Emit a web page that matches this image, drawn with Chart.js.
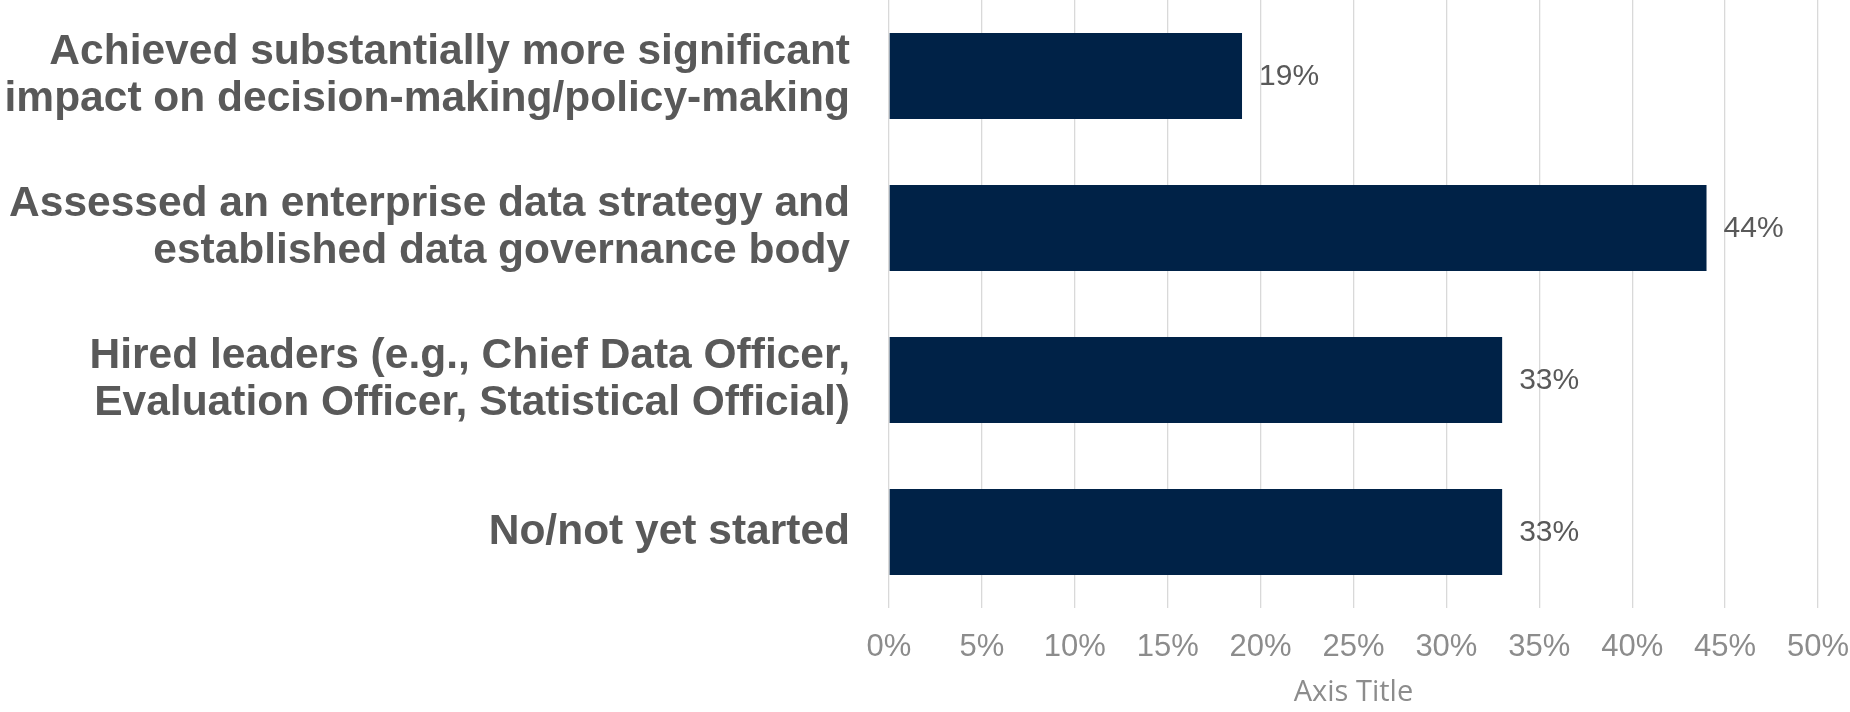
<!DOCTYPE html>
<html>
<head>
<meta charset="utf-8">
<script src="https://cdn.jsdelivr.net/npm/chart.js@4.4.1/dist/chart.umd.min.js"></script>
<style>
  html, body { margin: 0; padding: 0; background: #ffffff; }
  #wrap { width: 1850px; height: 712px; position: relative; }
</style>
</head>
<body>
<div id="wrap"><canvas id="chart"></canvas></div>
<script>
// Survey answers, one bar per answer
const categories = [
  ["Achieved substantially more significant", "impact on decision-making/policy-making"],
  ["Assessed an enterprise data strategy and", "established data governance body"],
  ["Hired leaders (e.g., Chief Data Officer,", "Evaluation Officer, Statistical Official)"],
  "No/not yet started"
];
const shares = [19, 44, 33, 33];          // percent of respondents
const tickValues = [0, 5, 10, 15, 20, 25, 30, 35, 40, 45, 50];
const axisTitle = "Axis Title";

// Writes each bar's value just past its end
const valueLabels = {
  id: 'valueLabels',
  afterDatasetsDraw(chart) {
    const ctx = chart.ctx;
    const meta = chart.getDatasetMeta(0);
    ctx.save();
    ctx.font = '30px "Liberation Sans", Arial, sans-serif';
    ctx.fillStyle = '#595959';
    ctx.textAlign = 'left';
    ctx.textBaseline = 'middle';
    meta.data.forEach((bar, i) => {
      ctx.fillText(chart.data.datasets[0].data[i] + '%', bar.x + 17, bar.y + 1);
    });
    ctx.restore();
  }
};

new Chart(document.getElementById('chart'), {
  type: 'bar',
  data: {
    labels: categories,
    datasets: [{
      data: shares,
      backgroundColor: '#002247',
      borderWidth: 0,
      categoryPercentage: 1,
      barPercentage: 0.566
    }]
  },
  options: {
    indexAxis: 'y',
    responsive: true,
    maintainAspectRatio: false,
    animation: false,
    layout: { padding: { left: 0, right: 32, top: 0, bottom: 0 } },
    plugins: {
      legend: { display: false },
      tooltip: { enabled: false }
    },
    scales: {
      x: {
        min: 0,
        max: 50,
        afterBuildTicks(scale) {
          scale.ticks = tickValues.map(v => ({ value: v }));
        },
        afterFit(scale) {
          scale.height = 104;
          scale.paddingLeft = 0;
          scale.paddingRight = 0;
        },
        grid: {
          color: '#d9d9d9',
          lineWidth: 1.3,
          drawTicks: false
        },
        border: { display: false },
        ticks: {
          padding: 21,
          color: '#8c8c8c',
          font: { family: '"Liberation Sans", Arial, sans-serif', size: 31 },
          callback: v => v + '%'
        },
        title: {
          display: true,
          text: axisTitle,
          color: '#8c8c8c',
          font: { family: '"Open Sans", sans-serif', size: 29 },
          padding: { top: 0, bottom: 2 }
        }
      },
      y: {
        afterFit(scale) {
          scale.width = 889;
          scale.paddingTop = 0;
          scale.paddingBottom = 0;
        },
        grid: { display: false, drawTicks: false },
        border: { display: false },
        ticks: {
          padding: 39,
          color: '#595959',
          font: {
            family: '"Liberation Sans", Arial, sans-serif',
            size: 42.5,
            weight: 'bold',
            lineHeight: 1.11
          }
        }
      }
    }
  },
  plugins: [valueLabels]
});
</script>
</body>
</html>
